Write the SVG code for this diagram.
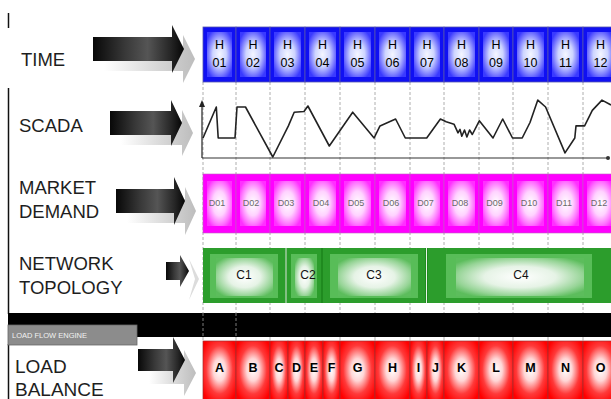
<svg xmlns="http://www.w3.org/2000/svg" width="611" height="399" viewBox="0 0 611 399">
  <defs>
    <style>
      .lbl { font-family: "Liberation Sans", Arial, sans-serif; font-size: 18.5px; fill: #1e1e1e; }
      .hc { font-family: "Liberation Sans", Arial, sans-serif; font-size: 12.5px; fill: #000; text-anchor: middle; }
      .dc { font-family: "Liberation Sans", Arial, sans-serif; font-size: 9px; fill: #6a6a6a; text-anchor: middle; }
      .cc { font-family: "Liberation Sans", Arial, sans-serif; font-size: 12px; fill: #111; text-anchor: middle; }
      .lc { font-family: "Liberation Sans", Arial, sans-serif; font-size: 12.5px; font-weight: bold; fill: #000; text-anchor: middle; }
      .tab { font-family: "Liberation Sans", Arial, sans-serif; font-size: 7.5px; fill: #f2f2f2; }
      .bo { fill: #1010f2; stroke: #5656b0; stroke-width: 0.8; }
      .bi { fill: url(#gBlue); }
      .mo { fill: #ff00ff; stroke: #c060c0; stroke-width: 0.6; }
      .mi { fill: url(#gMag); }
      .go { fill: #2c9d2c; }
      .gm { fill: #58bd58; }
      .gi { fill: url(#gGreen); }
      .ro { fill: url(#gRed); stroke: #a03030; stroke-width: 0.7; }
      .grid { stroke: #9a9a9a; stroke-width: 0.8; stroke-dasharray: 3 2; fill: none; }
      .arr { fill: url(#gArrow); }
      .shd { fill: url(#gShadow); }
      .edge { stroke: #111; stroke-width: 1.5; fill: none; }
    </style>
    <radialGradient id="gBlue" cx="0.5" cy="0.5" r="0.6">
      <stop offset="0" stop-color="#f4f6ff"/>
      <stop offset="0.45" stop-color="#cdd4ff"/>
      <stop offset="0.8" stop-color="#6f6fff"/>
      <stop offset="1" stop-color="#3a3aff"/>
    </radialGradient>
    <radialGradient id="gMag" cx="0.5" cy="0.5" r="0.6">
      <stop offset="0" stop-color="#ffffff"/>
      <stop offset="0.45" stop-color="#ffd2ff"/>
      <stop offset="0.8" stop-color="#ff70ff"/>
      <stop offset="1" stop-color="#ff30ff"/>
    </radialGradient>
    <radialGradient id="gGreen" cx="0.5" cy="0.5" r="0.62">
      <stop offset="0" stop-color="#ffffff"/>
      <stop offset="0.45" stop-color="#e6f3e6"/>
      <stop offset="0.8" stop-color="#96d496"/>
      <stop offset="1" stop-color="#5cbd5c"/>
    </radialGradient>
    <radialGradient id="gRed" cx="0.5" cy="0.48" r="0.62">
      <stop offset="0" stop-color="#ffffff"/>
      <stop offset="0.3" stop-color="#ffd6d6"/>
      <stop offset="0.65" stop-color="#ff3a3a"/>
      <stop offset="1" stop-color="#ff0000"/>
    </radialGradient>
    <linearGradient id="gArrow" x1="0" y1="0" x2="1" y2="0">
      <stop offset="0" stop-color="#080808"/>
      <stop offset="0.35" stop-color="#383838"/>
      <stop offset="0.6" stop-color="#555"/>
      <stop offset="0.85" stop-color="#262626"/>
      <stop offset="1" stop-color="#050505"/>
    </linearGradient>
    <linearGradient id="gShadow" x1="0" y1="0" x2="1" y2="0">
      <stop offset="0" stop-color="#ffffff"/>
      <stop offset="0.6" stop-color="#d6d6d6"/>
      <stop offset="1" stop-color="#bdbdbd"/>
    </linearGradient>
  </defs>

  <rect x="0" y="0" width="611" height="399" fill="#ffffff"/>

  <!-- left frame line -->
  <g id="frame">
    <line class="edge" x1="8.5" y1="13" x2="8.5" y2="28"/>
    <line class="edge" x1="8.5" y1="88" x2="8.5" y2="314"/>
    <line class="edge" x1="8.5" y1="344" x2="8.5" y2="399"/>
  </g>

  <!-- hour grid -->
  <g id="grid">
    <path class="grid" d="M203,82V341 M236,82V341 M270,82V341 M305,82V341 M340,82V341 M375,82V341 M410,82V341 M444,82V341 M479,82V341 M513,82V341 M548,82V341 M583,82V341"/>
  </g>

  <!-- row labels -->
  <g id="labels">
    <text class="lbl" x="21" y="66">TIME</text>
    <text class="lbl" x="19" y="132">SCADA</text>
    <text class="lbl" x="19" y="194">MARKET</text>
    <text class="lbl" x="19" y="218">DEMAND</text>
    <text class="lbl" x="19" y="270">NETWORK</text>
    <text class="lbl" x="19" y="294">TOPOLOGY</text>
    <text class="lbl" x="15" y="373" style="font-size:19px">LOAD</text>
    <text class="lbl" x="15" y="396" style="font-size:19px">BALANCE</text>
  </g>

  <!-- connectors: row arrows with drop shadows -->
  <g id="connectors">
    <path class="shd" d="M104,47 H183 V35 L195,59 L183,83 V71 H104 Z"/>
    <path class="arr" d="M93,37 H172 V25 L184,49 L172,73 V61 H93 Z"/>
    <path class="shd" d="M121,121 H182 V110 L193,133 L182,156 V145 H121 Z"/>
    <path class="arr" d="M110,111 H171 V100 L182,123 L171,146 V135 H110 Z"/>
    <path class="shd" d="M127,199 H185 V187 L196,211 L185,235 V223 H127 Z"/>
    <path class="arr" d="M116,189 H174 V177 L185,201 L174,225 V213 H116 Z"/>
    <path fill="#dcdcdc" d="M189,259 L199,279 L189,300 L195,279 Z"/>
    <path class="arr" d="M166,262 H180 V255 L189,271 L180,287 V280 H166 Z"/>
    <path class="shd" d="M149,362 H184 V350 L196,373 L184,396 V384 H149 Z"/>
    <path class="arr" d="M138,349 H173 V337 L185,360 L173,383 V371 H138 Z"/>
  </g>

  <!-- TIME row -->
  <g id="time">
    <rect class="bo" x="203" y="27" width="33" height="55"/><rect class="bi" x="207" y="32" width="25" height="45"/>
    <rect class="bo" x="236" y="27" width="34" height="55"/><rect class="bi" x="240" y="32" width="26" height="45"/>
    <rect class="bo" x="270" y="27" width="35" height="55"/><rect class="bi" x="274" y="32" width="27" height="45"/>
    <rect class="bo" x="305" y="27" width="35" height="55"/><rect class="bi" x="309" y="32" width="27" height="45"/>
    <rect class="bo" x="340" y="27" width="35" height="55"/><rect class="bi" x="344" y="32" width="27" height="45"/>
    <rect class="bo" x="375" y="27" width="35" height="55"/><rect class="bi" x="379" y="32" width="27" height="45"/>
    <rect class="bo" x="410" y="27" width="34" height="55"/><rect class="bi" x="414" y="32" width="26" height="45"/>
    <rect class="bo" x="444" y="27" width="35" height="55"/><rect class="bi" x="448" y="32" width="27" height="45"/>
    <rect class="bo" x="479" y="27" width="34" height="55"/><rect class="bi" x="483" y="32" width="26" height="45"/>
    <rect class="bo" x="513" y="27" width="35" height="55"/><rect class="bi" x="517" y="32" width="27" height="45"/>
    <rect class="bo" x="548" y="27" width="35" height="55"/><rect class="bi" x="552" y="32" width="27" height="45"/>
    <rect class="bo" x="583" y="27" width="35" height="55"/><rect class="bi" x="587" y="32" width="27" height="45"/>
    <text class="hc" x="219.5" y="49">H</text><text class="hc" x="219.5" y="67">01</text>
    <text class="hc" x="253" y="49">H</text><text class="hc" x="253" y="67">02</text>
    <text class="hc" x="287.5" y="49">H</text><text class="hc" x="287.5" y="67">03</text>
    <text class="hc" x="322.5" y="49">H</text><text class="hc" x="322.5" y="67">04</text>
    <text class="hc" x="357.5" y="49">H</text><text class="hc" x="357.5" y="67">05</text>
    <text class="hc" x="392.5" y="49">H</text><text class="hc" x="392.5" y="67">06</text>
    <text class="hc" x="427" y="49">H</text><text class="hc" x="427" y="67">07</text>
    <text class="hc" x="461.5" y="49">H</text><text class="hc" x="461.5" y="67">08</text>
    <text class="hc" x="496" y="49">H</text><text class="hc" x="496" y="67">09</text>
    <text class="hc" x="530.5" y="49">H</text><text class="hc" x="530.5" y="67">10</text>
    <text class="hc" x="565.5" y="49">H</text><text class="hc" x="565.5" y="67">11</text>
    <text class="hc" x="600.5" y="49">H</text><text class="hc" x="600.5" y="67">12</text>
  </g>

  <!-- SCADA chart -->
  <g id="scada">
    <path d="M202,158 V104" stroke="#222" stroke-width="1.2" fill="none"/>
    <path d="M199,107 L202,100 L205,107 Z" fill="#222"/>
    <path d="M202,158 H608" stroke="#333" stroke-width="1.2" fill="none"/>
    <circle cx="608" cy="158" r="2" fill="#333"/>
    <polyline fill="none" stroke="#222" stroke-width="1.6" stroke-linejoin="round"
      points="203,138 216.3,107 218.2,138 235,138 237,107 245.5,107 272.8,157 288.4,125.9 294.2,112.2 304,111.5 307.9,106 329.3,146 352.7,112.2 374.1,138 380,125.9 395.6,119 405.3,138 426.7,138 440.4,119 446.2,121.8 454,124.2 458,132.8 460,129.4 461.8,136.3 464.5,130 466.9,137 469.6,130 472.3,134.5 479.3,120.8 493,138 502.7,119 512.5,138 522.2,138 530,122.5 537.8,100.1 545.6,107 565,152.9 574.8,138 576,125.9 584.6,125.9 592.3,110.4 602,100.1 611,105"/>
  </g>

  <!-- MARKET DEMAND row -->
  <g id="market">
    <rect class="mo" x="203" y="174" width="33" height="59"/><rect class="mi" x="207" y="181" width="25" height="45"/>
    <rect class="mo" x="236" y="174" width="34" height="59"/><rect class="mi" x="240" y="181" width="26" height="45"/>
    <rect class="mo" x="270" y="174" width="35" height="59"/><rect class="mi" x="274" y="181" width="27" height="45"/>
    <rect class="mo" x="305" y="174" width="35" height="59"/><rect class="mi" x="309" y="181" width="27" height="45"/>
    <rect class="mo" x="340" y="174" width="35" height="59"/><rect class="mi" x="344" y="181" width="27" height="45"/>
    <rect class="mo" x="375" y="174" width="35" height="59"/><rect class="mi" x="379" y="181" width="27" height="45"/>
    <rect class="mo" x="410" y="174" width="34" height="59"/><rect class="mi" x="414" y="181" width="26" height="45"/>
    <rect class="mo" x="444" y="174" width="35" height="59"/><rect class="mi" x="448" y="181" width="27" height="45"/>
    <rect class="mo" x="479" y="174" width="34" height="59"/><rect class="mi" x="483" y="181" width="26" height="45"/>
    <rect class="mo" x="513" y="174" width="35" height="59"/><rect class="mi" x="517" y="181" width="27" height="45"/>
    <rect class="mo" x="548" y="174" width="35" height="59"/><rect class="mi" x="552" y="181" width="27" height="45"/>
    <rect class="mo" x="583" y="174" width="35" height="59"/><rect class="mi" x="587" y="181" width="27" height="45"/>
    <text class="dc" x="217" y="206">D01</text>
    <text class="dc" x="251" y="206">D02</text>
    <text class="dc" x="286" y="206">D03</text>
    <text class="dc" x="321" y="206">D04</text>
    <text class="dc" x="356" y="206">D05</text>
    <text class="dc" x="391" y="206">D06</text>
    <text class="dc" x="425.5" y="206">D07</text>
    <text class="dc" x="460" y="206">D08</text>
    <text class="dc" x="494.5" y="206">D09</text>
    <text class="dc" x="529" y="206">D10</text>
    <text class="dc" x="564" y="206">D11</text>
    <text class="dc" x="599" y="206">D12</text>
  </g>

  <!-- NETWORK TOPOLOGY row -->
  <g id="topology">
    <rect x="203" y="248" width="408" height="55" fill="#1f8a1f"/>
    <rect class="go" x="203" y="248" width="82" height="55"/>
    <rect class="gm" x="210" y="254" width="68" height="44"/>
    <rect class="gi" x="216" y="258" width="57" height="38"/>
    <rect class="go" x="287" y="248" width="34" height="55"/>
    <rect class="gm" x="291" y="254" width="26" height="44"/>
    <rect class="gi" x="295" y="258" width="19" height="38"/>
    <rect class="go" x="323" y="248" width="102" height="55"/>
    <rect class="gm" x="330" y="254" width="88" height="44"/>
    <rect class="gi" x="338" y="258" width="73" height="38"/>
    <rect class="go" x="428" y="248" width="190" height="55"/>
    <rect class="gm" x="446" y="254" width="146" height="44"/>
    <rect class="gi" x="456" y="258" width="128" height="38"/>
    <line x1="286" y1="248" x2="286" y2="303" stroke="#e8f4e8" stroke-width="1"/>
    <line x1="426.5" y1="248" x2="426.5" y2="303" stroke="#e8f4e8" stroke-width="1"/>
    <text class="cc" x="244" y="279">C1</text>
    <text class="cc" x="308" y="279">C2</text>
    <text class="cc" x="374" y="279">C3</text>
    <text class="cc" x="521" y="279">C4</text>
  </g>

  <!-- load flow engine band -->
  <g id="engine">
    <rect x="8" y="313" width="603" height="24" fill="#000"/>
    <path class="grid" d="M203,313V337 M236,313V337" stroke="#777"/>
    <rect x="8" y="325" width="129" height="20" fill="#8c8c8c" stroke="#666" stroke-width="0.8"/>
    <text class="tab" x="12" y="338">LOAD FLOW ENGINE</text>
  </g>

  <!-- LOAD BALANCE row -->
  <g id="balance">
    <rect class="ro" x="203" y="341" width="33" height="60"/>
    <rect class="ro" x="236" y="341" width="34" height="60"/>
    <rect class="ro" x="270" y="341" width="18" height="60"/>
    <rect class="ro" x="288" y="341" width="17" height="60"/>
    <rect class="ro" x="305" y="341" width="18" height="60"/>
    <rect class="ro" x="323" y="341" width="17" height="60"/>
    <rect class="ro" x="340" y="341" width="35" height="60"/>
    <rect class="ro" x="375" y="341" width="35" height="60"/>
    <rect class="ro" x="410" y="341" width="17" height="60"/>
    <rect class="ro" x="427" y="341" width="17" height="60"/>
    <rect class="ro" x="444" y="341" width="35" height="60"/>
    <rect class="ro" x="479" y="341" width="34" height="60"/>
    <rect class="ro" x="513" y="341" width="35" height="60"/>
    <rect class="ro" x="548" y="341" width="35" height="60"/>
    <rect class="ro" x="583" y="341" width="35" height="60"/>
    <text class="lc" x="219.5" y="372">A</text>
    <text class="lc" x="253" y="372">B</text>
    <text class="lc" x="279" y="372">C</text>
    <text class="lc" x="296.5" y="372">D</text>
    <text class="lc" x="314" y="372">E</text>
    <text class="lc" x="331.5" y="372">F</text>
    <text class="lc" x="357.5" y="372">G</text>
    <text class="lc" x="392.5" y="372">H</text>
    <text class="lc" x="418.5" y="372">I</text>
    <text class="lc" x="435.5" y="372">J</text>
    <text class="lc" x="461.5" y="372">K</text>
    <text class="lc" x="496" y="372">L</text>
    <text class="lc" x="530.5" y="372">M</text>
    <text class="lc" x="565.5" y="372">N</text>
    <text class="lc" x="600.5" y="372">O</text>
  </g>
</svg>
